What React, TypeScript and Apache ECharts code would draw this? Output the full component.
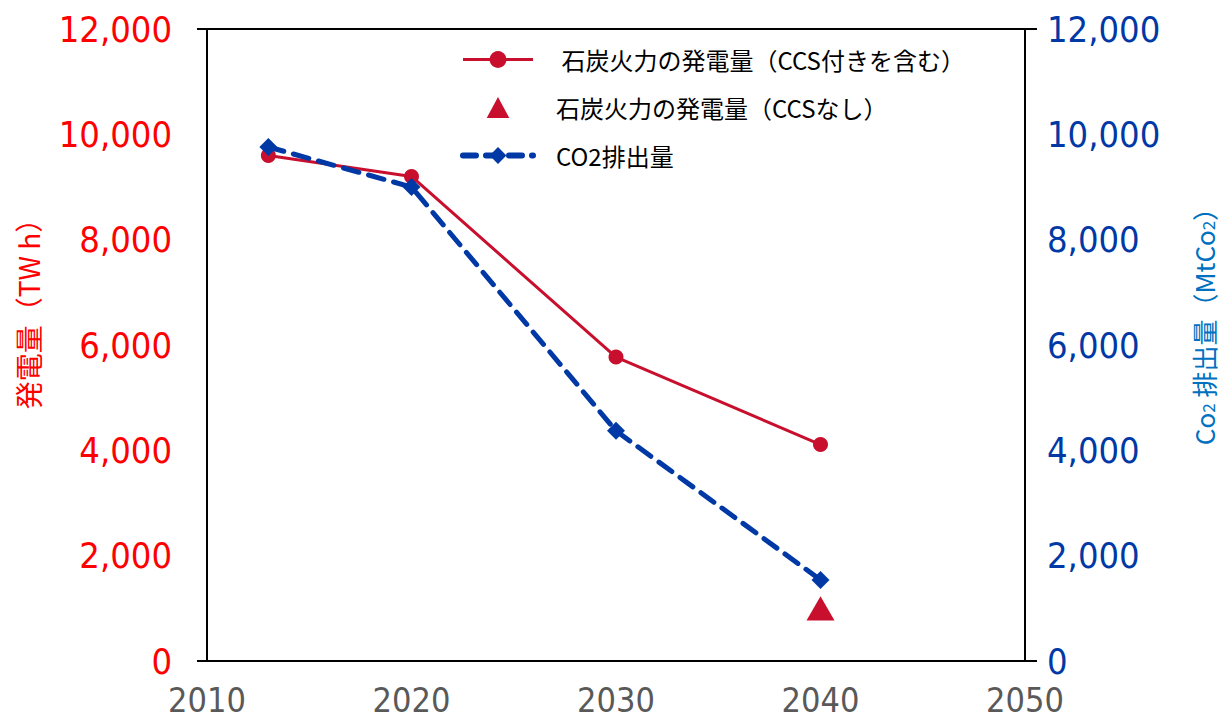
import React, { useEffect, useRef } from "react";
import * as echarts from "echarts";

// Years for each observation
const years = [2013, 2020, 2030, 2040];
// Coal power generation including CCS (TWh)
const coalWithCcs = [9600, 9200, 5770, 4110];
// Coal power generation without CCS (TWh), 2040 only
const coalNoCcsYear = [2040];
const coalNoCcs = [1000];
// CO2 emissions (MtCO2)
const co2Emissions = [9760, 9000, 4370, 1540];

const xTicks = [2010, 2020, 2030, 2040, 2050];
const yTicks = [0, 2000, 4000, 6000, 8000, 10000, 12000];

const RED_LINE = "#c8102e";
const RED_TEXT = "#ff0000";
const BLUE = "#0039a6";
const BLUE_NAME = "#0070c0";
const NUM_FONT = "'DejaVu Sans Condensed', 'Open Sans', 'DejaVu Sans', sans-serif";
const CJK_FONT = "'Noto Sans CJK JP', 'Noto Sans', sans-serif";

const TRIANGLE = "path://M0,26L14,0L28,26Z";

const fmt = (v: number) => v.toLocaleString("en-US");

const NAME_WITH_CCS = " 石炭火力の発電量（CCS付きを含む）";
const NAME_NO_CCS = "石炭火力の発電量（CCSなし）";
const NAME_CO2 = "CO2排出量";

export default function App() {
  const ref = useRef<HTMLDivElement>(null);

  useEffect(() => {
    if (!ref.current) return;
    const chart = echarts.init(ref.current, null, { renderer: "svg" });

    const pairs = (xs: number[], ys: number[]) => xs.map((x, i) => [x, ys[i]]);

    const left = 207;
    const right = 1025;
    const top = 29;
    const bottom = 661;

    chart.setOption({
      animation: false,
      backgroundColor: "#ffffff",
      grid: { left, right: 1222 - right, top, bottom: 721 - bottom, containLabel: false },
      legend: {
        orient: "vertical",
        left: 455,
        top: 41,
        itemWidth: 70,
        itemHeight: 21,
        itemGap: 21,
        textStyle: {
          fontFamily: CJK_FONT,
          fontSize: 24,
          lineHeight: 27,
          color: "#000",
          padding: [0, 0, 0, 18],
        },
        data: [
          { name: NAME_WITH_CCS, lineStyle: { width: 3, color: RED_LINE } },
          { name: NAME_NO_CCS },
          { name: NAME_CO2, lineStyle: { width: 6, color: BLUE, type: [13, 10], cap: "round" } },
        ],
      },
      xAxis: {
        type: "value",
        min: xTicks[0],
        max: xTicks[xTicks.length - 1],
        interval: 10,
        axisLine: { show: false },
        axisTick: { show: false },
        splitLine: { show: false },
        axisLabel: {
          margin: 22,
          color: "#595959",
          fontFamily: NUM_FONT,
          fontSize: 34,
          lineHeight: 34,
          formatter: (v: number) => String(v),
        },
      },
      yAxis: [
        {
          type: "value",
          min: yTicks[0],
          max: yTicks[yTicks.length - 1],
          interval: 2000,
          axisLine: { show: true, lineStyle: { color: "#000", width: 2 } },
          axisTick: { show: false },
          splitLine: { show: false },
          axisLabel: { margin: 35, color: RED_TEXT, fontFamily: NUM_FONT, fontSize: 36, formatter: fmt },
        },
        {
          type: "value",
          position: "right",
          min: yTicks[0],
          max: yTicks[yTicks.length - 1],
          interval: 2000,
          axisLine: { show: true, lineStyle: { color: "#000", width: 2 } },
          axisTick: { show: false },
          splitLine: { show: false },
          axisLabel: { margin: 22, color: BLUE, fontFamily: NUM_FONT, fontSize: 36, formatter: fmt },
        },
      ],
      graphic: [
        {
          type: "line",
          shape: { x1: left - 10, y1: top, x2: right + 12, y2: top },
          style: { stroke: "#000", lineWidth: 2 },
        },
        {
          type: "line",
          shape: { x1: left - 10, y1: bottom, x2: right + 12, y2: bottom },
          style: { stroke: "#000", lineWidth: 2 },
        },
        {
          type: "text",
          x: 28,
          y: 307,
          rotation: Math.PI / 2,
          style: {
            text: "発電量（TW h）",
            align: "center",
            verticalAlign: "middle",
            fill: RED_TEXT,
            fontFamily: CJK_FONT,
            fontSize: 28,
          },
        },
        {
          type: "text",
          x: 1203,
          y: 320,
          rotation: Math.PI / 2,
          style: {
            text: "Co{sub|2} 排出量（MtCo{sub|2}）",
            align: "center",
            verticalAlign: "middle",
            fill: BLUE_NAME,
            fontFamily: CJK_FONT,
            fontSize: 26,
            rich: {
              sub: {
                fontSize: 17,
                fill: BLUE_NAME,
                fontFamily: CJK_FONT,
                padding: [9, 0, 0, 0],
              },
            },
          },
        },
      ],
      series: [
        {
          name: NAME_WITH_CCS,
          type: "line",
          yAxisIndex: 0,
          data: pairs(years, coalWithCcs),
          symbol: "circle",
          symbolSize: 15,
          lineStyle: { color: RED_LINE, width: 3 },
          itemStyle: { color: RED_LINE },
          z: 2,
        },
        {
          name: NAME_NO_CCS,
          type: "scatter",
          yAxisIndex: 0,
          data: pairs(coalNoCcsYear, coalNoCcs),
          symbol: TRIANGLE,
          symbolKeepAspect: true,
          symbolSize: [28, 26],
          itemStyle: { color: RED_LINE, opacity: 1 },
          z: 2,
        },
        {
          name: NAME_CO2,
          type: "line",
          yAxisIndex: 1,
          data: pairs(years, co2Emissions),
          symbol: "diamond",
          symbolSize: 18,
          lineStyle: { color: BLUE, width: 5, type: [16, 10], cap: "round" },
          itemStyle: { color: BLUE },
          z: 3,
        },
      ],
    });

    return () => chart.dispose();
  }, []);

  return (
    <div
      ref={ref}
      style={{ position: "absolute", left: 0, top: 0, width: 1222, height: 721, background: "#fff" }}
    />
  );
}
